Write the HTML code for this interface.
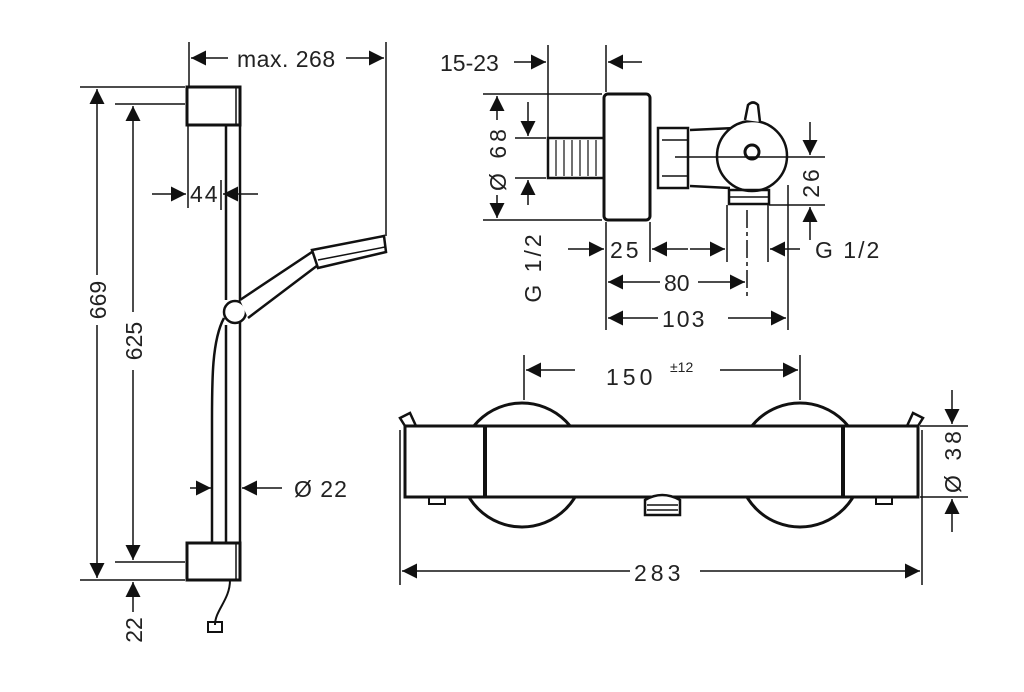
<!DOCTYPE html>
<html><head><style>body{margin:0;background:#fff}svg{display:block}text{font-family:"Liberation Sans",sans-serif;fill:#222}</style></head><body>
<svg width="1024" height="692" viewBox="0 0 1024 692" xmlns="http://www.w3.org/2000/svg">
<defs><marker id="a" viewBox="0 0 10 10" refX="10" refY="5" markerWidth="17" markerHeight="15" markerUnits="userSpaceOnUse" orient="auto"><path d="M0,0L10,5L0,10z" fill="#111"/></marker></defs>
<g stroke="#111" stroke-width="1.5" fill="none">
<rect x="187" y="87" width="53" height="38" stroke-width="3"/>
<line x1="236" y1="87" x2="236" y2="125"/>
<rect x="187" y="543" width="53" height="37" stroke-width="3"/>
<line x1="236" y1="543" x2="236" y2="580"/>
<line x1="226" y1="125" x2="226" y2="300" stroke-width="2.5"/>
<line x1="240" y1="125" x2="240" y2="543" stroke-width="2.5"/>
<line x1="226" y1="325" x2="226" y2="543" stroke-width="2.5"/>
<path d="M224,318 C212,340 212,380 212,420 L212,543" stroke-width="2.5"/>
<path d="M230,580 C230,600 215,610 215,625" stroke-width="2"/>
<rect x="208" y="622" width="14" height="10" stroke-width="2"/>
<circle cx="235" cy="312" r="11" stroke-width="2.5" fill="#fff"/>
<path d="M240,300 L312,252 L322,262 L248,318" stroke-width="2.5" fill="#fff"/>
<path d="M312,250 L384,236 L386,252 L318,268 Z" stroke-width="2.5" fill="#fff"/>
<line x1="318" y1="260" x2="385" y2="247"/>
<line x1="80" y1="87" x2="185" y2="87"/><line x1="115" y1="104" x2="185" y2="104"/>
<line x1="80" y1="580" x2="185" y2="580"/><line x1="115" y1="562" x2="185" y2="562"/>
<line x1="97" y1="275" x2="97" y2="89" marker-end="url(#a)"/><line x1="97" y1="325" x2="97" y2="578" marker-end="url(#a)"/>
<line x1="133" y1="312" x2="133" y2="106" marker-end="url(#a)"/><line x1="133" y1="370" x2="133" y2="560" marker-end="url(#a)"/>
<line x1="133" y1="612" x2="133" y2="582" marker-end="url(#a)"/>
<line x1="189" y1="42" x2="189" y2="86"/><line x1="386" y1="42" x2="386" y2="236"/>
<line x1="228" y1="58" x2="191" y2="58" marker-end="url(#a)"/><line x1="346" y1="58" x2="384" y2="58" marker-end="url(#a)"/>
<line x1="188" y1="125" x2="188" y2="208"/><line x1="221" y1="180" x2="221" y2="210"/>
<line x1="152" y1="194" x2="186" y2="194" marker-end="url(#a)"/><line x1="258" y1="194" x2="223" y2="194" marker-end="url(#a)"/>
<line x1="190" y1="488" x2="211" y2="488" marker-end="url(#a)"/><line x1="282" y1="488" x2="242" y2="488" marker-end="url(#a)"/>
<rect x="604" y="94" width="46" height="126" rx="4" stroke-width="3"/>
<rect x="548" y="138" width="56" height="40" stroke-width="2.5"/>
<g stroke-width="1.2"><line x1="556" y1="140" x2="556" y2="176"/><line x1="564" y1="140" x2="564" y2="176"/><line x1="572" y1="140" x2="572" y2="176"/><line x1="580" y1="140" x2="580" y2="176"/><line x1="588" y1="140" x2="588" y2="176"/><line x1="596" y1="140" x2="596" y2="176"/></g>
<rect x="658" y="128" width="30" height="60" stroke-width="2.5"/>
<line x1="662" y1="140" x2="688" y2="140"/><line x1="662" y1="176" x2="688" y2="176"/>
<path d="M690,130 L735,128 M690,186 L730,188" stroke-width="2.5"/>
<circle cx="752" cy="156" r="35" stroke-width="2.5" fill="#fff"/>
<circle cx="752" cy="152" r="7" stroke-width="3"/>
<path d="M745,120 L748,105 Q753,100 758,105 L760,122" stroke-width="2.5" fill="#fff"/>
<rect x="729" y="190" width="40" height="14" stroke-width="2.5"/>
<line x1="729" y1="197" x2="769" y2="197"/>
<line x1="548" y1="45" x2="548" y2="137"/><line x1="606" y1="45" x2="606" y2="92"/>
<line x1="514" y1="62" x2="546" y2="62" marker-end="url(#a)"/><line x1="642" y1="62" x2="608" y2="62" marker-end="url(#a)"/>
<line x1="483" y1="94" x2="602" y2="94"/><line x1="483" y1="220" x2="602" y2="220"/>
<line x1="515" y1="138" x2="546" y2="138"/><line x1="515" y1="178" x2="546" y2="178"/>
<line x1="497" y1="120" x2="497" y2="96" marker-end="url(#a)"/><line x1="497" y1="195" x2="497" y2="218" marker-end="url(#a)"/>
<line x1="528" y1="102" x2="528" y2="136" marker-end="url(#a)"/><line x1="528" y1="205" x2="528" y2="180" marker-end="url(#a)"/>
<line x1="675" y1="157" x2="825" y2="157"/><line x1="769" y1="205" x2="825" y2="205"/>
<line x1="810" y1="122" x2="810" y2="155" marker-end="url(#a)"/><line x1="810" y1="240" x2="810" y2="207" marker-end="url(#a)"/>
<line x1="606" y1="222" x2="606" y2="330"/><line x1="650" y1="222" x2="650" y2="262"/>
<line x1="727" y1="205" x2="727" y2="262"/><line x1="747" y1="210" x2="747" y2="300" stroke-dasharray="18,4,4,4"/>
<line x1="768" y1="205" x2="768" y2="262"/><line x1="788" y1="185" x2="788" y2="330"/>
<line x1="568" y1="249" x2="604" y2="249" marker-end="url(#a)"/>
<line x1="688" y1="249" x2="652" y2="249" marker-end="url(#a)"/><line x1="690" y1="249" x2="725" y2="249" marker-end="url(#a)"/>
<line x1="800" y1="249" x2="770" y2="249" marker-end="url(#a)"/>
<line x1="660" y1="282" x2="608" y2="282" marker-end="url(#a)"/><line x1="698" y1="282" x2="745" y2="282" marker-end="url(#a)"/>
<line x1="658" y1="318" x2="608" y2="318" marker-end="url(#a)"/><line x1="728" y1="318" x2="786" y2="318" marker-end="url(#a)"/>
<circle cx="522" cy="465" r="62" stroke-width="3" fill="#fff"/>
<circle cx="800" cy="465" r="62" stroke-width="3" fill="#fff"/>
<rect x="405" y="426" width="513" height="71" stroke-width="3" fill="#fff"/>
<line x1="485" y1="426" x2="485" y2="497" stroke-width="4"/><line x1="843" y1="426" x2="843" y2="497" stroke-width="4"/>
<path d="M405,426 L400,418 L410,413 L416,426 M918,426 L923,418 L913,413 L907,426" stroke-width="2.5"/>
<rect x="429" y="497" width="16" height="7" stroke-width="2"/><rect x="876" y="497" width="16" height="7" stroke-width="2"/>
<path d="M645,515 L645,500 Q662,490 680,500 L680,515 Z" stroke-width="2.5" fill="#fff"/>
<line x1="647" y1="505" x2="678" y2="505"/><line x1="647" y1="510" x2="678" y2="510"/>
<line x1="524" y1="355" x2="524" y2="400"/><line x1="800" y1="355" x2="800" y2="400"/>
<line x1="575" y1="370" x2="526" y2="370" marker-end="url(#a)"/><line x1="720" y1="370" x2="798" y2="370" marker-end="url(#a)"/>
<line x1="400" y1="430" x2="400" y2="585"/><line x1="922" y1="430" x2="922" y2="585"/>
<line x1="630" y1="571" x2="402" y2="571" marker-end="url(#a)"/><line x1="700" y1="571" x2="920" y2="571" marker-end="url(#a)"/>
<line x1="920" y1="426" x2="968" y2="426"/><line x1="920" y1="497" x2="968" y2="497"/>
<line x1="952" y1="390" x2="952" y2="424" marker-end="url(#a)"/><line x1="952" y1="532" x2="952" y2="499" marker-end="url(#a)"/>
</g>
<g font-size="23">
<text x="237" y="67" letter-spacing="0.5">max. 268</text>
<text x="190" y="202" letter-spacing="2">44</text>
<text x="294" y="497" letter-spacing="1">Ø 22</text>
<text transform="translate(106,300) rotate(-90)" text-anchor="middle">669</text>
<text transform="translate(142,341) rotate(-90)" text-anchor="middle">625</text>
<text transform="translate(142,630) rotate(-90)" text-anchor="middle">22</text>
<text x="440" y="71">15-23</text>
<text transform="translate(506,158) rotate(-90)" text-anchor="middle" letter-spacing="4">Ø 68</text>
<text transform="translate(541,267) rotate(-90)" text-anchor="middle" letter-spacing="3">G 1/2</text>
<text transform="translate(819,182) rotate(-90)" text-anchor="middle" letter-spacing="3">26</text>
<text x="610" y="258" letter-spacing="3">25</text>
<text x="815" y="258" letter-spacing="2">G 1/2</text>
<text x="664" y="291">80</text>
<text x="662" y="327" letter-spacing="2">103</text>
<text x="606" y="385" letter-spacing="4">150</text>
<text x="670" y="372" font-size="14">±12</text>
<text x="634" y="581" letter-spacing="4">283</text>
<text transform="translate(961,460) rotate(-90)" text-anchor="middle" letter-spacing="4">Ø 38</text>
</g>
</svg>
</body></html>
